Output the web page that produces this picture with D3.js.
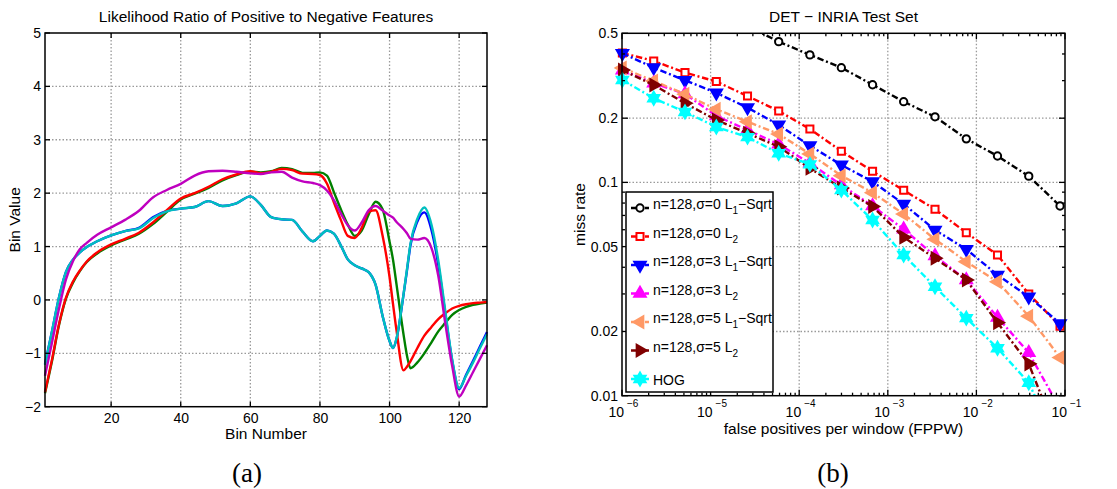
<!DOCTYPE html>
<html>
<head>
<meta charset="utf-8">
<script src="https://cdn.jsdelivr.net/npm/d3@7"></script>
<style>
body { margin: 0; background: #fff; }
text { font-family: "Liberation Sans", Arial, sans-serif; fill: #000; }
</style>
</head>
<body>
<div id="vis"></div>
<script>
/*
Data, panel (a): bin values of the likelihood ratio
*/
const bins = [1, 3, 5, 7, 9, 11, 13, 16, 20, 24, 28, 32, 36, 40, 44, 48, 52, 56, 60, 63, 66, 69, 72, 75, 78,
              80, 82, 84, 86, 88, 90, 92, 94, 96, 98, 100, 101, 102, 104, 105, 106, 108, 110, 112, 114, 116,
              118, 120, 122, 124, 126, 128];

const blueVals = [-1.2, -0.59, 0.04, 0.52, 0.75, 0.89, 0.99, 1.1, 1.21, 1.29, 1.35, 1.55, 1.67, 1.71, 1.74, 1.85,
                  1.76, 1.81, 1.94, 1.78, 1.55, 1.51, 1.5, 1.28, 1.1, 1.2, 1.3, 1.24, 1.02, 0.76, 0.65, 0.59, 0.52,
                  0.28, -0.3, -0.77, -0.9, -0.73, 0.09, 0.55, 1.02, 1.47, 1.64, 1.32, 0.66, -0.25, -1.14, -1.67,
                  -1.4, -1.14, -0.87, -0.6];
const greenVals = [-1.75, -1.15, -0.48, 0.02, 0.32, 0.54, 0.71, 0.87, 1.02, 1.13, 1.24, 1.42, 1.65, 1.88, 1.99, 2.1,
                   2.24, 2.34, 2.4, 2.39, 2.41, 2.47, 2.45, 2.38, 2.38, 2.39, 2.33, 2.02, 1.7, 1.41, 1.2, 1.3, 1.6,
                   1.84, 1.7, 1.09, 0.75, 0.29, -0.64, -1.04, -1.28, -1.17, -1.0, -0.8, -0.59, -0.43, -0.28, -0.19,
                   -0.13, -0.09, -0.07, -0.05];
const redVals = [-1.73, -1.12, -0.46, 0.04, 0.34, 0.55, 0.72, 0.89, 1.04, 1.145, 1.26, 1.45, 1.68, 1.9, 2.0, 2.12,
                 2.26, 2.35, 2.41, 2.375, 2.4, 2.455, 2.43, 2.365, 2.36, 2.34, 2.18, 1.83, 1.5, 1.2, 1.16, 1.35, 1.65,
                 1.68, 1.2, 0.43, -0.08, -0.57, -1.32, -1.25, -1.15, -0.9, -0.67, -0.51, -0.36, -0.25, -0.16, -0.11,
                 -0.08, -0.06, -0.05, -0.04];
const cyanVals = [-1.22, -0.59, 0.04, 0.52, 0.75, 0.89, 0.99, 1.1, 1.21, 1.29, 1.34, 1.53, 1.66, 1.71, 1.74, 1.85,
                  1.76, 1.81, 1.94, 1.78, 1.55, 1.51, 1.5, 1.28, 1.1, 1.2, 1.3, 1.24, 1.02, 0.76, 0.65, 0.59, 0.52,
                  0.28, -0.3, -0.77, -0.9, -0.72, 0.1, 0.57, 1.05, 1.52, 1.73, 1.42, 0.74, -0.2, -1.12, -1.65,
                  -1.42, -1.17, -0.9, -0.64];
const magentaVals = [-1.42, -0.8, -0.17, 0.38, 0.72, 0.95, 1.07, 1.22, 1.36, 1.5, 1.67, 1.92, 2.06, 2.175, 2.33, 2.41,
                     2.42, 2.4, 2.37, 2.36, 2.39, 2.4, 2.29, 2.22, 2.19, 2.15, 2.05, 1.87, 1.62, 1.4, 1.3, 1.45, 1.68,
                     1.76, 1.675, 1.58, 1.54, 1.46, 1.33, 1.25, 1.15, 1.13, 1.16, 0.98, 0.45, -0.43, -1.24, -1.81,
                     -1.6, -1.35, -1.1, -0.85];

const binTicks = [20, 40, 60, 80, 100, 120];
const binValueTicks = [-2, -1, 0, 1, 2, 3, 4, 5];

/*
Data, panel (b): DET curves, miss rate at each FPPW sample
*/
const fppw = [1.01e-6, 2.28e-6, 5.14e-6, 1.16e-5, 2.61e-5, 5.87e-5, 1.32e-4, 2.99e-4, 6.73e-4,
              1.51e-3, 3.41e-3, 7.69e-3, 1.73e-2, 3.90e-2, 8.79e-2];

const missS0L1 = [null, null, null, 0.63, 0.54, 0.457, 0.396, 0.345, 0.287, 0.239, 0.203, 0.160, 0.133, 0.107, 0.0775];
const missS0L2 = [0.404, 0.371, 0.327, 0.297, 0.254, 0.216, 0.178, 0.140, 0.1127, 0.0918, 0.0748, 0.0581, 0.0457, 0.030, 0.0212];
const missS3L1 = [0.403, 0.345, 0.301, 0.263, 0.224, 0.186, 0.1486, 0.1207, 0.1008, 0.0792, 0.0598, 0.0486, 0.0368, 0.0291, 0.0218];
const missS3L2 = [0.336, 0.292, 0.260, 0.205, 0.176, 0.151, 0.123, 0.0972, 0.0775, 0.0603, 0.0452, 0.0349, 0.0233, 0.0159, 0.0087];
const missS5L1 = [0.344, 0.299, 0.259, 0.220, 0.1926, 0.1686, 0.136, 0.1075, 0.0895, 0.0711, 0.0541, 0.0425, 0.0342, 0.0236, 0.0151];
const missS5L2 = [0.336, 0.286, 0.235, 0.196, 0.170, 0.147, 0.1164, 0.0941, 0.0771, 0.0553, 0.0441, 0.0349, 0.022, 0.0141, 0.006];
const missHOG  = [0.302, 0.248, 0.214, 0.182, 0.163, 0.137, 0.1215, 0.0921, 0.0666, 0.0457, 0.0324, 0.0231, 0.0167, 0.0115, 0.0055];

const fppwTicks = [1e-6, 1e-5, 1e-4, 1e-3, 1e-2, 1e-1];
const fppwTickExp = ["−6", "−5", "−4", "−3", "−2", "−1"];
const missTicks = [0.01, 0.02, 0.05, 0.1, 0.2, 0.5];
const missTickLabels = ["0.01", "0.02", "0.05", "0.1", "0.2", "0.5"];

const legendLabels = [
    ["n=128,σ=0 L", "1", "−Sqrt"],
    ["n=128,σ=0 L", "2", ""],
    ["n=128,σ=3 L", "1", "−Sqrt"],
    ["n=128,σ=3 L", "2", ""],
    ["n=128,σ=5 L", "1", "−Sqrt"],
    ["n=128,σ=5 L", "2", ""],
    ["HOG", "", ""]
];

/*
Size constants
*/
const WIDTH = 1117, HEIGHT = 489;
const panelA = {left: 45, right: 487, top: 33, bottom: 406.7};
const panelB = {left: 622, right: 1065, top: 33.3, bottom: 395.7};

const svg = d3.select("#vis")
              .append("svg")
              .attr("width", WIDTH)
              .attr("height", HEIGHT);

const defs = svg.append("defs");

/*
Helpers
*/
// dotted grid at the inner ticks
function gridLines(g, xs, ys, xScale, yScale, p) {
    g.selectAll("line.vgrid")
     .data(xs)
     .enter()
     .append("line")
     .attr("class", "vgrid")
     .attr("x1", d => xScale(d)).attr("x2", d => xScale(d))
     .attr("y1", p.top).attr("y2", p.bottom);
    g.selectAll("line.hgrid")
     .data(ys)
     .enter()
     .append("line")
     .attr("class", "hgrid")
     .attr("x1", p.left).attr("x2", p.right)
     .attr("y1", d => yScale(d)).attr("y2", d => yScale(d));
    g.selectAll("line")
     .style("stroke", "#9a9a9a")
     .style("stroke-width", "1.3px")
     .style("stroke-dasharray", "1.5px,2px");
}

// inward tick marks
function tickMarks(g, positions, along, at, len) {
    g.selectAll("line")
     .data(positions)
     .enter()
     .append("line")
     .attr("x1", d => along === "x" ? d : at)
     .attr("x2", d => along === "x" ? d : at + len)
     .attr("y1", d => along === "x" ? at : d)
     .attr("y2", d => along === "x" ? at + len : d)
     .style("stroke", "#000")
     .style("stroke-width", "1.3px");
}

function styleAxis(g) {
    g.select(".domain").remove();
    g.selectAll(".tick line").remove();
    g.selectAll(".tick text")
     .attr("font-size", 14)
     .attr("font-family", "Liberation Sans, Arial, sans-serif")
     .attr("fill", "#000");
}

// six pointed star, matlab 'hexagram'
const symbolHexagram = {
    draw(context, size) {
        const r = Math.sqrt(size / 1.2);
        const ri = r / Math.sqrt(3);
        for (let i = 0; i < 12; i++) {
            const a = Math.PI / 6 * i - Math.PI / 2;
            const rr = i % 2 ? ri : r;
            if (i === 0) context.moveTo(rr * Math.cos(a), rr * Math.sin(a));
            else context.lineTo(rr * Math.cos(a), rr * Math.sin(a));
        }
        context.closePath();
    }
};

/*
Panel (a)
*/
const xA = d3.scaleLinear().domain([1, 128]).range([panelA.left, panelA.right]);
const yA = d3.scaleLinear().domain([-2, 5]).range([panelA.bottom, panelA.top]);

const gA = svg.append("g").attr("id", "panel-a");

gridLines(gA.append("g"), binTicks, binValueTicks.slice(1, -1), xA, yA, panelA);

gA.append("g")
  .attr("transform", `translate(0,${panelA.bottom})`)
  .call(d3.axisBottom(xA).tickValues(binTicks).tickSize(0).tickPadding(6))
  .call(styleAxis);
gA.append("g")
  .attr("transform", `translate(${panelA.left},0)`)
  .call(d3.axisLeft(yA).tickValues(binValueTicks).tickSize(0).tickPadding(4).tickFormat(d3.format("d")))
  .call(styleAxis);

const seriesA = [
    {vals: blueVals, color: "#0000ff"},
    {vals: greenVals, color: "#008000"},
    {vals: redVals, color: "#ff0000"},
    {vals: cyanVals, color: "#00bfbf"},
    {vals: magentaVals, color: "#bf00bf"}
];

const lineA = d3.line()
                .x((d, i) => xA(bins[i]))
                .y(d => yA(d))
                .curve(d3.curveMonotoneX);

gA.append("g")
  .selectAll("path")
  .data(seriesA)
  .enter()
  .append("path")
  .attr("d", d => lineA(d.vals))
  .attr("fill", "none")
  .attr("stroke", d => d.color)
  .attr("stroke-width", 2.4)
  .attr("stroke-linejoin", "round");

const ticksA = gA.append("g");
tickMarks(ticksA.append("g"), binTicks.map(xA), "x", panelA.bottom, -5);
tickMarks(ticksA.append("g"), binTicks.map(xA), "x", panelA.top, 5);
tickMarks(ticksA.append("g"), binValueTicks.map(yA), "y", panelA.left, 5);
tickMarks(ticksA.append("g"), binValueTicks.map(yA), "y", panelA.right, -5);

gA.append("rect")
  .attr("x", panelA.left).attr("y", panelA.top)
  .attr("width", panelA.right - panelA.left)
  .attr("height", panelA.bottom - panelA.top)
  .attr("fill", "none")
  .attr("stroke", "#000")
  .attr("stroke-width", 1.5);

gA.append("text")
  .attr("x", (panelA.left + panelA.right) / 2).attr("y", 21.5)
  .attr("text-anchor", "middle").attr("font-size", 15.5)
  .text("Likelihood Ratio of Positive to Negative Features");
gA.append("text")
  .attr("x", (panelA.left + panelA.right) / 2).attr("y", 439)
  .attr("text-anchor", "middle").attr("font-size", 15.5)
  .text("Bin Number");
gA.append("text")
  .attr("transform", `translate(20,${(panelA.top + panelA.bottom) / 2}) rotate(-90)`)
  .attr("text-anchor", "middle").attr("font-size", 15.5)
  .text("Bin Value");
gA.append("text")
  .attr("x", 247).attr("y", 482)
  .attr("text-anchor", "middle")
  .style("font-family", "'Liberation Serif', serif")
  .attr("font-size", 27)
  .text("(a)");

/*
Panel (b)
*/
const xB = d3.scaleLog().domain([1e-6, 1e-1]).range([panelB.left, panelB.right]);
const yB = d3.scaleLog().domain([0.01, 0.5]).range([panelB.bottom, panelB.top]);

const gB = svg.append("g").attr("id", "panel-b");

gridLines(gB.append("g"), fppwTicks.slice(1, -1), missTicks.slice(1, -1), xB, yB, panelB);

const minorX = [];
for (let e = -6; e < -1; e++) for (let m = 2; m <= 9; m++) minorX.push(m * Math.pow(10, e));
const minorY = [0.03, 0.04, 0.06, 0.07, 0.08, 0.09, 0.3, 0.4];

gB.append("g")
  .attr("transform", `translate(${panelB.left},0)`)
  .call(d3.axisLeft(yB).tickValues(missTicks).tickSize(0).tickPadding(4)
          .tickFormat((d, i) => missTickLabels[i]))
  .call(styleAxis);

// x tick labels: "10" with a raised exponent next to it
const xLab = gB.append("g").attr("id", "x-tick-labels");
xLab.selectAll("text.base")
    .data(fppwTicks)
    .enter()
    .append("text")
    .attr("class", "base")
    .attr("x", d => xB(d) + 2)
    .attr("y", 416.5)
    .attr("text-anchor", "end")
    .attr("font-size", 14)
    .text("10");
xLab.selectAll("text.exp")
    .data(fppwTicks)
    .enter()
    .append("text")
    .attr("class", "exp")
    .attr("x", d => xB(d) + 5)
    .attr("y", 406.5)
    .attr("font-size", 10)
    .text((d, i) => fppwTickExp[i]);

defs.append("clipPath")
    .attr("id", "clip-b")
    .append("rect")
    .attr("x", panelB.left).attr("y", panelB.top)
    .attr("width", panelB.right - panelB.left)
    .attr("height", panelB.bottom - panelB.top);

const seriesB = [
    {miss: missS0L1, color: "#000000", symbol: d3.symbolCircle, size: 42, rot: 0, fill: "#fff"},
    {miss: missS0L2, color: "#ff0000", symbol: d3.symbolSquare, size: 50, rot: 0, fill: "#fff"},
    {miss: missS3L1, color: "#0000ff", symbol: d3.symbolTriangle, size: 58, rot: 180, fill: null},
    {miss: missS3L2, color: "#ff00ff", symbol: d3.symbolTriangle, size: 58, rot: 0, fill: null},
    {miss: missS5L1, color: "#ff9966", symbol: d3.symbolTriangle, size: 58, rot: -90, fill: null},
    {miss: missS5L2, color: "#800000", symbol: d3.symbolTriangle, size: 58, rot: 90, fill: null},
    {miss: missHOG,  color: "#00ffff", symbol: symbolHexagram, size: 50, rot: 0, fill: null}
];

const lineB = d3.line()
                .defined(d => d[1] !== null)
                .x(d => xB(d[0]))
                .y(d => yB(d[1]));

const DASH = "6.5,2.7,2,2.7";

seriesB.forEach(s => {
    const pts = fppw.map((f, i) => [f, s.miss[i]]);
    const g = gB.append("g");
    g.append("path")
     .attr("clip-path", "url(#clip-b)")
     .attr("d", lineB(pts))
     .attr("fill", "none")
     .attr("stroke", s.color)
     .attr("stroke-width", 2.4)
     .attr("stroke-dasharray", DASH);
    g.selectAll("path.marker")
     .data(pts.filter(d => d[1] !== null && d[1] >= 0.01 && d[1] <= 0.5))
     .enter()
     .append("path")
     .attr("class", "marker")
     .attr("transform", d => `translate(${xB(d[0])},${yB(d[1])}) rotate(${s.rot})`)
     .attr("d", d3.symbol().type(s.symbol).size(s.size))
     .attr("fill", s.fill || s.color)
     .attr("stroke", s.color)
     .attr("stroke-width", 2);
});

const ticksB = gB.append("g");
tickMarks(ticksB.append("g"), fppwTicks.map(xB), "x", panelB.bottom, -6);
tickMarks(ticksB.append("g"), fppwTicks.map(xB), "x", panelB.top, 6);
tickMarks(ticksB.append("g"), minorX.map(xB), "x", panelB.bottom, -3);
tickMarks(ticksB.append("g"), minorX.map(xB), "x", panelB.top, 3);
tickMarks(ticksB.append("g"), missTicks.map(yB), "y", panelB.left, 6);
tickMarks(ticksB.append("g"), missTicks.map(yB), "y", panelB.right, -6);
tickMarks(ticksB.append("g"), minorY.map(yB), "y", panelB.left, 3);
tickMarks(ticksB.append("g"), minorY.map(yB), "y", panelB.right, -3);

gB.append("rect")
  .attr("x", panelB.left).attr("y", panelB.top)
  .attr("width", panelB.right - panelB.left)
  .attr("height", panelB.bottom - panelB.top)
  .attr("fill", "none")
  .attr("stroke", "#000")
  .attr("stroke-width", 1.5);

// legend
const legend = gB.append("g").attr("id", "legend");
legend.append("rect")
      .attr("x", 626).attr("y", 192)
      .attr("width", 147).attr("height", 200)
      .attr("fill", "#fff")
      .attr("stroke", "#000")
      .attr("stroke-width", 1.5);

seriesB.forEach((s, i) => {
    const y = 208 + 28.5 * i;
    const item = legend.append("g");
    item.append("line")
        .attr("x1", 631).attr("x2", 649)
        .attr("y1", y).attr("y2", y)
        .attr("stroke", s.color)
        .attr("stroke-width", 2.4)
        .attr("stroke-dasharray", DASH);
    item.append("path")
        .attr("transform", `translate(640,${y}) rotate(${s.rot})`)
        .attr("d", d3.symbol().type(s.symbol).size(s.size))
        .attr("fill", s.fill || s.color)
        .attr("stroke", s.color)
        .attr("stroke-width", 2);
    const lab = legendLabels[i];
    const t = item.append("text")
                  .attr("x", 653)
                  .attr("y", lab[1] ? y + 1 : y + 5.5)
                  .attr("font-size", 14);
    t.append("tspan").text(lab[0]);
    if (lab[1]) {
        t.append("tspan").attr("dy", 5).attr("font-size", 10).text(lab[1]);
        if (lab[2]) t.append("tspan").attr("dy", -5).text(lab[2]);
    }
});

gB.append("text")
  .attr("x", (panelB.left + panelB.right) / 2).attr("y", 434)
  .attr("text-anchor", "middle").attr("font-size", 15.5)
  .text("false positives per window (FPPW)");
gB.append("text")
  .attr("x", (panelB.left + panelB.right) / 2).attr("y", 21.5)
  .attr("text-anchor", "middle").attr("font-size", 15.5)
  .text("DET − INRIA Test Set");
gB.append("text")
  .attr("transform", `translate(585,${(panelB.top + panelB.bottom) / 2}) rotate(-90)`)
  .attr("text-anchor", "middle").attr("font-size", 15.5)
  .text("miss rate");
gB.append("text")
  .attr("x", 833).attr("y", 482)
  .attr("text-anchor", "middle")
  .style("font-family", "'Liberation Serif', serif")
  .attr("font-size", 27)
  .text("(b)");
</script>
</body>
</html>
